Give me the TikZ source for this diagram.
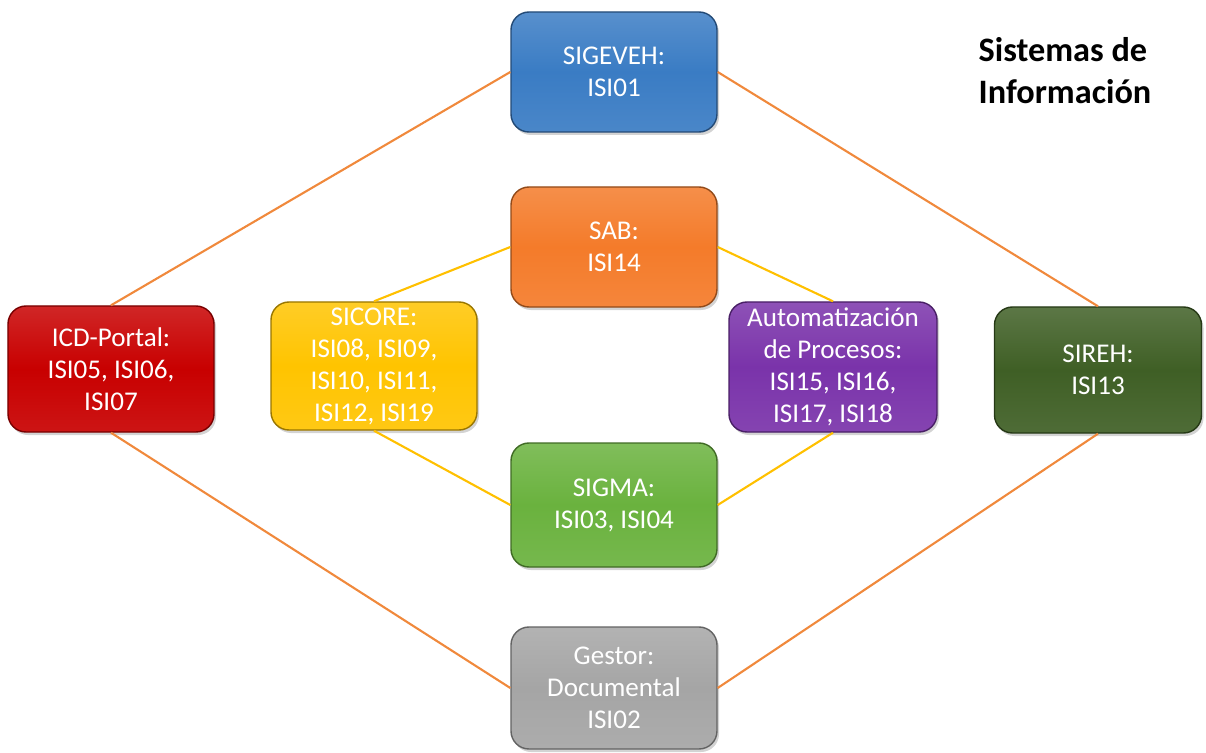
\documentclass[tikz,border=0pt]{standalone}
\usepackage{fontspec}
\setmainfont{Carlito}
\usepackage{xcolor}
\usetikzlibrary{positioning,shadows}
\definecolor{cblue}{HTML}{3A7CC4}
\definecolor{corange}{HTML}{F47B2A}
\definecolor{cgreen}{HTML}{6AB23E}
\definecolor{cgray}{HTML}{A5A5A5}
\definecolor{cred}{HTML}{C80000}
\definecolor{cyellow}{HTML}{FFC400}
\definecolor{cpurple}{HTML}{7A33AA}
\definecolor{cdkgreen}{HTML}{3F5F25}
\definecolor{linkout}{HTML}{F0893C}
\definecolor{linkin}{HTML}{FFC000}
\tikzset{%
	sistema/.style = {draw=#1!60!black, rounded corners=0.36cm, minimum width=4.12cm, minimum height=2.4cm,
		top color=#1!85!white, bottom color=#1!92!white, middle color=#1, text=white, align=center,
		font=\fontsize{15.4}{18.2}\selectfont, inner sep=1pt, thick, drop shadow={opacity=0.35, shadow xshift=0.04cm, shadow yshift=-0.06cm}},
	outer/.style   = {draw=linkout, line width=1.2pt},
	inner/.style   = {draw=linkin, line width=1.2pt},
}
\begin{document}
\begin{tikzpicture}[x=0.2mm,y=-0.2mm]
	\useasboundingbox (0,0) rectangle (1206,753);
	% nodes
	\node[sistema=cblue] (sigeveh) at (614,72) {SIGEVEH:\\ISI01};
	\node[sistema=corange] (sab) at (614,247) {SAB:\\ISI14};
	\node[sistema=cgreen, minimum height=2.48cm] (sigma) at (614,505) {SIGMA:\\ISI03, ISI04};
	\node[sistema=cgray, minimum height=2.44cm] (gestor) at (614,688) {Gestor:\\Documental\\ISI02};
	\node[sistema=cred, minimum height=2.52cm] (icd) at (111,369) {ICD-Portal:\\ISI05, ISI06,\\ISI07};
	\node[sistema=cyellow, minimum height=2.56cm] (sicore) at (374,366) {SICORE:\\ISI08, ISI09,\\ISI10, ISI11,\\ISI12, ISI19};
	\node[sistema=cpurple, minimum width=4.16cm, minimum height=2.6cm] (procesos) at (833,367) {Automatización\\de Procesos:\\ISI15, ISI16,\\ISI17, ISI18};
	\node[sistema=cdkgreen, minimum width=4.14cm, minimum height=2.52cm] (sireh) at (1098,370) {SIREH:\\ISI13};
	\node[align=left, font=\bfseries\fontsize{19.5}{24}\selectfont] (titulo) at (1065,71) {Sistemas de\\Información};
	% links
	\draw[outer] (sigeveh.west) -- (icd.north);
	\draw[outer] (sigeveh.east) -- (sireh.north);
	\draw[outer] (icd.south) -- (gestor.west);
	\draw[outer] (sireh.south) -- (gestor.east);
	\draw[inner] (sab.west) -- (sicore.north);
	\draw[inner] (sab.east) -- (procesos.north);
	\draw[inner] (sicore.south) -- (sigma.west);
	\draw[inner] (procesos.south) -- (sigma.east);
\end{tikzpicture}
\end{document}
